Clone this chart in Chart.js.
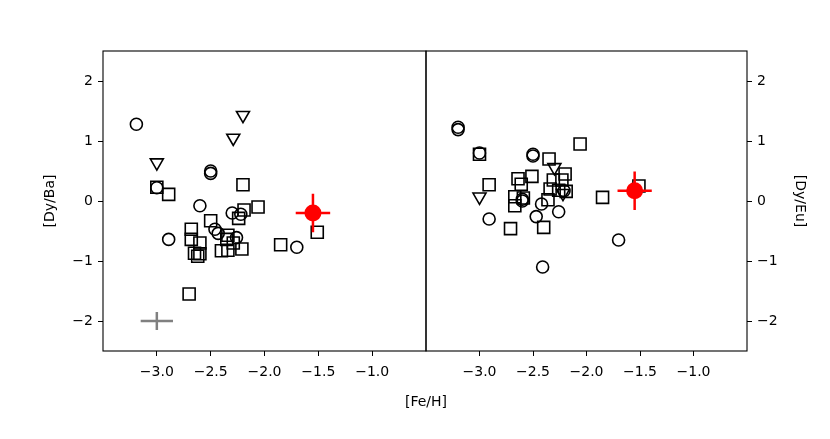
<!DOCTYPE html>
<html>
<head>
<meta charset="utf-8">
<script src="https://cdn.jsdelivr.net/npm/chart.js@4.4.1/dist/chart.umd.min.js"></script>
<style>
  body { margin: 0; background: #fff; width: 830px; height: 439px; position: relative; overflow: hidden; }
  canvas { position: absolute; top: 0; }
  #leftChart { left: 0; }
  #rightChart { left: 420px; }
  #xTitle { position: absolute; left: 0; width: 852px; top: 393px; text-align: center;
            font: 14px "DejaVu Sans", sans-serif; color: #000; }
</style>
</head>
<body>
<canvas id="leftChart" width="430" height="439"></canvas>
<canvas id="rightChart" width="410" height="439"></canvas>
<div id="xTitle">[Fe/H]</div>
<script>
// axis ticks
const xTicks = [-3.0, -2.5, -2.0, -1.5, -1.0];
const yTicks = [-2, -1, 0, 1, 2];

// [Dy/Ba] vs [Fe/H]
const baCircles = [[-3.19, 1.28], [-2.5, 0.5], [-2.5, 0.46], [-3.0, 0.22], [-2.6, -0.08], [-2.3, -0.2],
  [-2.22, -0.22], [-2.46, -0.47], [-2.43, -0.54], [-2.26, -0.61], [-2.89, -0.64], [-1.7, -0.77]];
const baSquares = [[-3.0, 0.23], [-2.89, 0.11], [-2.2, 0.27], [-2.06, -0.1], [-2.19, -0.15], [-2.24, -0.29],
  [-2.5, -0.33], [-2.68, -0.47], [-2.68, -0.64], [-2.6, -0.7], [-2.34, -0.57], [-2.29, -0.7], [-2.35, -0.64],
  [-2.4, -0.83], [-2.34, -0.82], [-2.21, -0.8], [-2.65, -0.87], [-2.6, -0.88], [-2.62, -0.92],
  [-1.85, -0.73], [-1.51, -0.52], [-2.7, -1.55]];
const baTriangles = [[-3.0, 0.64], [-2.29, 1.05], [-2.2, 1.43]];
const baStar = [[-1.55, -0.2]];

// [Dy/Eu] vs [Fe/H]
const euCircles = [[-3.2, 1.23], [-3.2, 1.19], [-3.0, 0.8], [-2.5, 0.78], [-2.5, 0.75], [-2.6, 0.03],
  [-2.6, 0.0], [-2.42, -0.05], [-2.26, -0.18], [-2.47, -0.26], [-2.91, -0.3], [-2.41, -1.1],
  [-1.7, -0.65], [-2.21, 0.17]];
const euSquares = [[-3.0, 0.78], [-2.06, 0.95], [-2.35, 0.7], [-2.2, 0.45], [-2.51, 0.41], [-2.64, 0.37],
  [-2.61, 0.28], [-2.91, 0.27], [-2.31, 0.35], [-2.23, 0.35], [-2.34, 0.2], [-2.26, 0.18], [-2.19, 0.16],
  [-2.67, 0.07], [-2.67, -0.08], [-2.59, 0.05], [-2.36, 0.02], [-2.71, -0.46], [-2.4, -0.44],
  [-1.85, 0.06], [-1.51, 0.25]];
const euTriangles = [[-3.0, 0.07], [-2.3, 0.56], [-2.22, 0.13]];
const euStar = [[-1.55, 0.17]];

// error bars: star (x, y) and typical error shown at (-3.0, -2.0)
const starErr = [0.16, 0.32];
const typicalPoint = [[-3.0, -2.0]];
const typicalErr = [0.15, 0.15];

const FONT = '"DejaVu Sans", sans-serif';
const pts = arr => arr.map(p => ({ x: p[0], y: p[1] }));
const minus = v => (v < 0 ? '\u2212' : '') + Math.abs(v);

// Draw frame and error bars through the chart scales
const framePlugin = {
  id: 'frame',
  afterDatasetsDraw(chart, args, opts) {
    const { ctx, chartArea: a, scales: { x, y } } = chart;
    ctx.save();
    const bar = (pt, err, color, w) => {
      ctx.strokeStyle = color;
      ctx.lineWidth = w;
      ctx.beginPath();
      ctx.moveTo(x.getPixelForValue(pt[0] - err[0]), y.getPixelForValue(pt[1]));
      ctx.lineTo(x.getPixelForValue(pt[0] + err[0]), y.getPixelForValue(pt[1]));
      ctx.moveTo(x.getPixelForValue(pt[0]), y.getPixelForValue(pt[1] - err[1]));
      ctx.lineTo(x.getPixelForValue(pt[0]), y.getPixelForValue(pt[1] + err[1]));
      ctx.stroke();
    };
    opts.star.forEach(p => bar(p, starErr, '#ff0000', 2.5));
    if (opts.typical) opts.typical.forEach(p => bar(p, typicalErr, '#808080', 2.5));
    // star dot on top of its bars
    opts.star.forEach(p => {
      ctx.fillStyle = '#ff0000';
      ctx.beginPath();
      ctx.arc(x.getPixelForValue(p[0]), y.getPixelForValue(p[1]), 8.5, 0, Math.PI * 2);
      ctx.fill();
    });
    ctx.strokeStyle = '#000';
    ctx.lineWidth = 1.1;
    ctx.strokeRect(a.left, a.top, a.right - a.left, a.bottom - a.top);
    ctx.restore();
  }
};

function makeChart(id, circles, squares, triangles, star, side, title, typical) {
  const mk = (data, style, r, rot) => ({
    data: pts(data), pointStyle: style, pointRadius: r, pointRotation: rot || 0,
    pointBorderColor: '#000', pointBackgroundColor: 'rgba(0,0,0,0)', pointBorderWidth: 1.6,
    pointHoverRadius: r, showLine: false
  });
  const left = side === 'left';
  return new Chart(document.getElementById(id), {
    type: 'scatter',
    data: {
      datasets: [
        mk(circles, 'circle', 6),
        mk(squares, 'rect', 8.5),
        mk(triangles, 'triangle', 7.5, 180)
      ]
    },
    options: {
      responsive: false,
      animation: false,
      events: [],
      layout: { autoPadding: false, padding: { top: 51, left: left ? 0 : 6, right: left ? 4 : 0, bottom: 0 } },
      plugins: {
        legend: { display: false },
        tooltip: { enabled: false },
        frame: { star: star, typical: typical }
      },
      scales: {
        x: {
          type: 'linear', min: -3.5, max: -0.5,
          afterBuildTicks: s => { s.ticks = xTicks.map(v => ({ value: v })); },
          afterFit: s => { s.height = 88; s.paddingLeft = 0; s.paddingRight = 0; },
          grid: { display: true, drawOnChartArea: false, drawTicks: true, tickLength: 5, color: '#000' },
          border: { display: false },
          ticks: { color: '#000', font: { family: FONT, size: 14 }, padding: 8, maxRotation: 0,
                   callback: v => (v < 0 ? '\u2212' : '') + Math.abs(v).toFixed(1) }
        },
        y: {
          type: 'linear', position: side, min: -2.5, max: 2.5,
          afterBuildTicks: s => { s.ticks = yTicks.map(v => ({ value: v })); },
          afterFit: s => { s.width = left ? 103 : 83; s.paddingTop = 0; s.paddingBottom = 0; },
          grid: { display: true, drawOnChartArea: false, drawTicks: true, tickLength: 5, color: '#000' },
          border: { display: false },
          ticks: { color: '#000', font: { family: FONT, size: 14 }, padding: 5, callback: minus },
          title: { display: true, text: title, color: '#000', font: { family: FONT, size: 14 },
                   padding: { top: left ? 42 : 22, bottom: 0 } }
        }
      }
    },
    plugins: [framePlugin]
  });
}

makeChart('leftChart', baCircles, baSquares, baTriangles, baStar, 'left', '[Dy/Ba]', typicalPoint);
makeChart('rightChart', euCircles, euSquares, euTriangles, euStar, 'right', '[Dy/Eu]', null);
</script>
</body>
</html>
